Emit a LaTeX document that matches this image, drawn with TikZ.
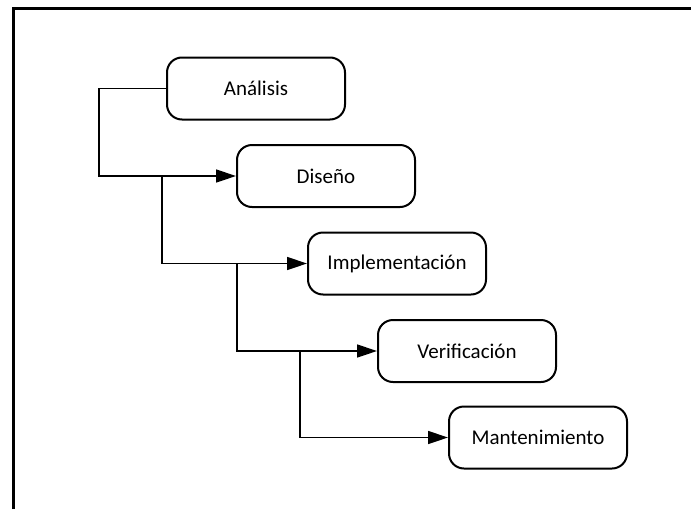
\documentclass[tikz,border=0pt]{standalone}
\usepackage{fontspec}
\setmainfont{Carlito}
\usetikzlibrary{arrows.meta}

\begin{document}
\begin{tikzpicture}[x=1pt,y=-1pt,->,>={Triangle[length=20pt,width=13pt]},
    line width=1.4pt,
    phase/.style={draw,-,line width=2pt,rounded corners=15pt,
        minimum width=178pt,minimum height=62pt,inner sep=0pt,
        font=\fontsize{21}{25}\selectfont}]

\useasboundingbox (0,0) rectangle (691,509);

% frame
\path [draw,-,line width=3pt] (13,509) -- (13,8) -- (691,8);

\node [phase] (ana) at (256,88.5) {Análisis};
\node [phase] (dis) at (326,176) {Diseño};
\node [phase] (imp) at (397,263.5) {Implementación};
\node [phase] (ver) at (467,351) {Verificación};
\node [phase] (man) at (538,437.5) {Mantenimiento};

\coordinate (bdis) at ([xshift=-74pt]dis.west);
\coordinate (bimp) at ([xshift=-70pt]imp.west);
\coordinate (bver) at ([xshift=-77pt]ver.west);

\draw (ana.west) -- ++(-67,0) |- (dis.west);
\draw (bdis) |- (imp.west);
\draw (bimp) |- (ver.west);
\draw (bver) |- (man.west);

\end{tikzpicture}
\end{document}
